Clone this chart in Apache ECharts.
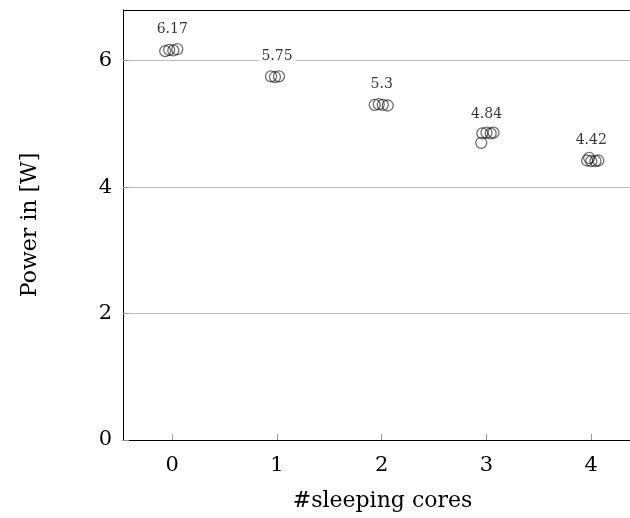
<!DOCTYPE html>
<html>
<head>
<meta charset="utf-8">
<script src="https://cdn.jsdelivr.net/npm/echarts@6/dist/echarts.min.js"></script>
<style>
  html, body { margin: 0; padding: 0; background: #fff; }
  #chart { width: 630px; height: 518px; }
</style>
</head>
<body>
<div id="chart"></div>
<script>
// 每次测量的点 (x 带少量抖动)
const sampleX = [-0.067, -0.029, 0.01, 0.048,
                 0.943, 0.981, 1.019,
                 1.933, 1.971, 2.01, 2.057,
                 2.96, 3.0, 3.04, 3.067, 2.95,
                 3.96, 4.0, 4.04, 4.067, 3.98];
const sampleY = [6.15, 6.17, 6.16, 6.18,
                 5.75, 5.74, 5.75,
                 5.30, 5.31, 5.30, 5.29,
                 4.85, 4.86, 4.85, 4.86, 4.70,
                 4.42, 4.41, 4.41, 4.42, 4.46];

// 每组的平均值标签
const cores = [0, 1, 2, 3, 4];
const meanPower = [6.17, 5.75, 5.3, 4.84, 4.42];

const yTicks = [0, 2, 4, 6];

const font = 'DejaVu Serif';

const chart = echarts.init(document.getElementById('chart'));
chart.setOption({
    animation: false,
    grid: { left: 123, top: 10, right: 0, bottom: 78, show: false, outerBoundsMode: 'none' },
    xAxis: {
        type: 'value',
        min: -0.47, max: 4.37,
        name: '#sleeping cores',
        nameLocation: 'middle',
        nameGap: 50,
        nameTextStyle: { fontFamily: font, fontSize: 22, color: '#000', padding: [0, 0, 0, 12] },
        axisLine: { onZero: false, lineStyle: { color: '#000', width: 1 } },
        axisTick: { inside: true, length: 6, lineStyle: { color: '#999' },
                    customValues: cores },
        axisLabel: { fontFamily: font, fontSize: 21, color: '#000', margin: 15,
                     customValues: cores },
        splitLine: { show: false }
    },
    yAxis: {
        type: 'value',
        min: 0, max: 6.8,
        name: 'Power in [W]',
        nameLocation: 'middle',
        nameGap: 82,
        nameTextStyle: { fontFamily: font, fontSize: 22, color: '#000' },
        axisLine: { show: true, onZero: false, lineStyle: { color: '#000', width: 1 } },
        axisTick: { show: true, inside: true, length: 6, lineStyle: { color: '#999' },
                    customValues: yTicks },
        axisLabel: { fontFamily: font, fontSize: 21, color: '#000', margin: 11,
                     customValues: yTicks },
        splitLine: { show: true, lineStyle: { color: '#bdbdbd', width: 1 } }
    },
    series: [
        {
            type: 'scatter',
            data: sampleX.map((x, i) => [x, sampleY[i]]),
            symbol: 'circle',
            symbolSize: 11,
            itemStyle: { color: 'rgba(255,255,255,0)', borderColor: 'rgba(0,0,0,0.7)', borderWidth: 1.3 },
            z: 3
        },
        {
            type: 'scatter',
            data: cores.map((c, i) => [c, meanPower[i]]),
            symbolSize: 0,
            silent: true,
            label: {
                show: true,
                position: 'top',
                distance: 13,
                formatter: p => String(p.value[1]),
                fontFamily: font,
                fontSize: 14,
                color: '#000',
                backgroundColor: '#fff',
                padding: [0, 3]
            },
            z: 4
        }
    ],
    graphic: [
        { type: 'line', shape: { x1: 123, y1: 10.5, x2: 630, y2: 10.5 },
          style: { stroke: '#000', lineWidth: 1 } }
    ]
});
</script>
</body>
</html>
